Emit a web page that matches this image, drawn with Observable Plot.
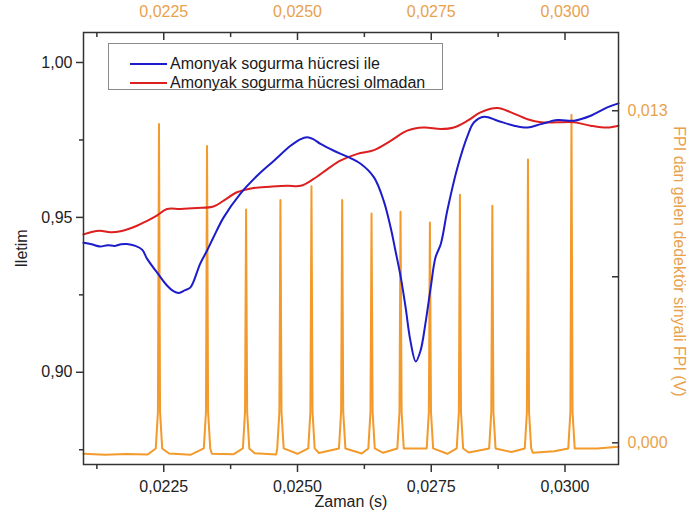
<!DOCTYPE html>
<html><head><meta charset="utf-8">
<script src="https://cdn.jsdelivr.net/npm/d3@7"></script>
<script src="https://cdn.jsdelivr.net/npm/@observablehq/plot@0.6"></script>
<style>
body{margin:0;background:#fff;font-family:"Liberation Sans",Arial,sans-serif;}
#wrap{position:relative;width:688px;height:517px;}
.legend{position:absolute;left:108px;top:43px;width:335px;height:47px;border:1px solid #8a8a8a;background:#fff;box-sizing:border-box;}
.row{position:absolute;left:21px;height:19px;display:flex;align-items:center;font-size:16px;color:#1a1a1a;white-space:nowrap;}
.row .ln{display:inline-block;width:37px;height:2px;margin-right:3px;}
</style></head><body><div id="wrap"></div>
<script>
// ---- data ----
const seriesNames = ["Amonyak sogurma hücresi ile", "Amonyak sogurma hücresi olmadan"];
const xMajor = [0.0225, 0.0250, 0.0275, 0.0300];
const xMinor = [0.02125, 0.02375, 0.02625, 0.02875];
const yMajor = [0.90, 0.95, 1.00];
const yMinor = [0.875, 0.925, 0.975];
const rMajor = [0.000, 0.013];
const rMinor = [0.0065];
const xTitle = "Zaman (s)";
const yTitle = "Iletim";
const rTitle = "FPI dan gelen dedektör sinyali FPI (V)";

const blueT = [0.02100,0.02115,0.02131,0.02145,0.02159,0.02170,0.02181,0.02197,0.02210,0.02219,0.02237,0.02256,0.02268,0.02278,0.02290,0.02300,0.02318,0.02331,0.02343,0.02362,0.02393,0.02425,0.02456,0.02487,0.02505,0.02518,0.02530,0.02543,0.02568,0.02593,0.02618,0.02643,0.02661,0.02674,0.02683,0.02693,0.02702,0.02711,0.02721,0.02730,0.02739,0.02749,0.02758,0.02768,0.02780,0.02799,0.02818,0.02830,0.02849,0.02874,0.02905,0.02930,0.02955,0.02986,0.03017,0.03048,0.03079,0.03100];
const blueV = [0.9418,0.9413,0.9406,0.9410,0.9408,0.9413,0.9414,0.9408,0.9395,0.9366,0.9323,0.9280,0.9262,0.9256,0.9265,0.9274,0.9350,0.9393,0.9436,0.9500,0.9576,0.9635,0.9683,0.9731,0.9752,0.9759,0.9752,0.9737,0.9715,0.9696,0.9673,0.9629,0.9554,0.9468,0.9393,0.9307,0.9210,0.9102,0.9035,0.9070,0.9156,0.9274,0.9371,0.9415,0.9522,0.9661,0.9764,0.9807,0.9825,0.9812,0.9796,0.9790,0.9801,0.9814,0.9812,0.9828,0.9855,0.9868];

const redT = [0.02100,0.02115,0.02131,0.02150,0.02169,0.02200,0.02219,0.02237,0.02256,0.02281,0.02312,0.02343,0.02362,0.02387,0.02418,0.02449,0.02481,0.02506,0.02530,0.02556,0.02580,0.02612,0.02643,0.02674,0.02705,0.02736,0.02768,0.02792,0.02818,0.02842,0.02874,0.02899,0.02930,0.02955,0.02986,0.03017,0.03048,0.03079,0.03100];
const redV = [0.9445,0.9453,0.9457,0.9452,0.9455,0.9473,0.9489,0.9506,0.9527,0.9527,0.9530,0.9535,0.9554,0.9581,0.9595,0.9599,0.9602,0.9602,0.9624,0.9656,0.9683,0.9705,0.9717,0.9747,0.9780,0.9790,0.9785,0.9790,0.9812,0.9839,0.9853,0.9839,0.9817,0.9807,0.9807,0.9807,0.9796,0.9790,0.9796];

const fpiBaseT = [0.0210,0.0214,0.0218,0.0222,0.0226,0.0230,0.0234,0.0238,0.0242,0.0246,0.0250,0.0254,0.0258,0.0262,0.0266,0.0270,0.0274,0.0278,0.0282,0.0286,0.0290,0.0294,0.0298,0.0302,0.0306,0.0310];
const fpiBaseV = [-0.00043,-0.00047,-0.00044,-0.00046,-0.00042,-0.00047,-0.00043,-0.00045,-0.00041,-0.00046,-0.00043,-0.00040,-0.00045,-0.00042,-0.00039,-0.00044,-0.00040,-0.00043,-0.00038,-0.00041,-0.00036,-0.00039,-0.00033,-0.00030,-0.00022,-0.00015];
const peakT = [0.022411,0.023309,0.024039,0.024681,0.025261,0.025835,0.026384,0.026926,0.027475,0.028036,0.028642,0.029308,0.030121];
const peakV = [0.01248,0.01162,0.00913,0.00951,0.01004,0.00951,0.00898,0.00905,0.00862,0.00971,0.00928,0.01109,0.01284];
const peakShoulderV = 0.0012;
const peakSkirtV = -0.00022;

// ---- scales linking the two y axes ----
const L0 = 0.87023, L1 = 1.00968, R0 = -0.000849, R1 = 0.016063;
const toL = v => L0 + (v - R0) / (R1 - R0) * (L1 - L0);
const toR = d => R0 + (d - L0) / (L1 - L0) * (R1 - R0);
const comma = (d, n) => (Math.abs(d) < 1e-9 ? 0 : d).toFixed(n).replace(".", ",");

const BLUE = "#1c1ccb", RED = "#dc1f1f", ORANGE = "#f39a2c", ORANGE_TXT = "#e8a24c";

const blue = blueT.map((t, i) => ({t, v: blueV[i]}));
const red = redT.map((t, i) => ({t, v: redV[i]}));
const fpi = [];
fpiBaseT.forEach((t, i) => { if (peakT.every(p => Math.abs(p - t) > 0.00008)) fpi.push({t, v: fpiBaseV[i]}); });
peakT.forEach((p, i) => {
  fpi.push({t: p - 0.00006, v: peakSkirtV}, {t: p - 0.00002, v: peakShoulderV}, {t: p, v: peakV[i]},
           {t: p + 0.00002, v: peakShoulderV}, {t: p + 0.00006, v: peakSkirtV});
});
fpi.sort((a, b) => a.t - b.t);

const chart = Plot.plot({
  width: 688, height: 517,
  marginLeft: 83, marginRight: 70, marginTop: 32, marginBottom: 53,
  style: {fontSize: "16px", fontFamily: "'Liberation Sans', Arial, sans-serif", color: "#222", background: "white"},
  x: {domain: [0.021, 0.031]},
  y: {domain: [L0, L1]},
  marks: [
    Plot.line(fpi, {x: "t", y: d => toL(d.v), stroke: ORANGE, strokeWidth: 2}),
    Plot.line(red, {x: "t", y: "v", stroke: RED, strokeWidth: 2, curve: "catmull-rom"}),
    Plot.line(blue, {x: "t", y: "v", stroke: BLUE, strokeWidth: 2, curve: "catmull-rom"}),
    Plot.axisX({anchor: "bottom", ticks: xMajor, tickSize: 8, tickPadding: 8, tickFormat: d => comma(d, 4),
      label: xTitle, labelAnchor: "center", labelArrow: "none", labelOffset: 42, stroke: "#333", strokeWidth: 1.5}),
    Plot.axisX({anchor: "bottom", ticks: xMinor, tickSize: 5, fill: "none", label: null, stroke: "#333", strokeWidth: 1.5}),
    Plot.axisX({anchor: "top", ticks: xMajor, tickSize: 0, tickPadding: 16, tickFormat: d => comma(d, 4), fill: ORANGE_TXT, label: null}),
    Plot.axisX({anchor: "top", ticks: xMajor, tickSize: -7, fill: "none", label: null, stroke: "#333", strokeWidth: 1.5}),
    Plot.axisX({anchor: "top", ticks: xMinor, tickSize: -4, fill: "none", label: null, stroke: "#333", strokeWidth: 1.5}),
    Plot.axisY({anchor: "left", ticks: yMajor, tickSize: 7, tickPadding: 4, tickFormat: d => comma(d, 2),
      label: yTitle, labelAnchor: "center", labelArrow: "none", labelOffset: 68, stroke: "#333", strokeWidth: 1.5}),
    Plot.axisY({anchor: "left", ticks: yMinor, tickSize: 4, fill: "none", label: null, stroke: "#333", strokeWidth: 1.5}),
    Plot.axisY({anchor: "right", ticks: rMajor.map(toL), tickSize: 0, tickPadding: 9, tickFormat: d => comma(toR(d), 3), fill: ORANGE_TXT, label: null}),
    Plot.axisY({anchor: "right", ticks: rMajor.concat(rMinor).map(toL), tickSize: -7, fill: "none", label: null, stroke: "#333", strokeWidth: 1.5}),
    Plot.text([rTitle], {frameAnchor: "right", text: d => d, rotate: 90, textAnchor: "middle", dx: 61, dy: 13, fill: ORANGE_TXT}),
    Plot.frame({stroke: "#333", strokeWidth: 1.5})
  ]
});

const wrap = document.getElementById("wrap");
wrap.appendChild(chart);
const legend = document.createElement("div");
legend.className = "legend";
[[seriesNames[0], BLUE], [seriesNames[1], RED]].forEach(([name, col], i) => {
  const row = document.createElement("div");
  row.className = "row";
  row.style.top = (10 + i * 19) + "px";
  const ln = document.createElement("span");
  ln.className = "ln"; ln.style.background = col;
  const tx = document.createElement("span");
  tx.textContent = name;
  row.appendChild(ln); row.appendChild(tx);
  legend.appendChild(row);
});
wrap.appendChild(legend);
</script></body></html>
